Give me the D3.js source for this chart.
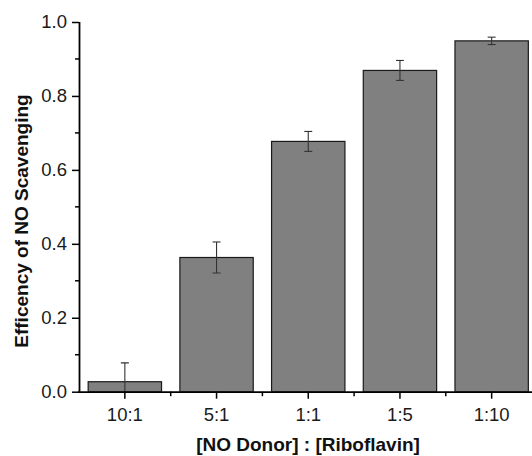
<!DOCTYPE html>
<html><head><meta charset="utf-8">
<script src="https://cdn.jsdelivr.net/npm/d3@7"></script>
<style>body{margin:0;background:#fff}svg{display:block}text{font-family:"Liberation Sans",Arial,sans-serif}</style>
</head><body>
<script>
const categories = ["10:1","5:1","1:1","1:5","1:10"];
const values = [0.027, 0.363, 0.677, 0.869, 0.949];
const errors = [0.051, 0.042, 0.027, 0.027, 0.010];
const yTicks = [0, 0.2, 0.4, 0.6, 0.8, 1.0];
const yMinorTicks = [0.1, 0.3, 0.5, 0.7, 0.9];

const W = 532, H = 456;
const svg = d3.select("body").append("svg").attr("width", W).attr("height", H);

const x = d3.scaleBand().domain(categories).range([79, 537.5]).paddingInner(0.2).paddingOuter(0.1);
const y = d3.scaleLinear().domain([0, 1]).range([391.7, 22]);

svg.append("defs").append("clipPath").attr("id","plot")
  .append("rect").attr("x",79).attr("y",0).attr("width",W).attr("height",y(0));

const g = svg.append("g").attr("clip-path","url(#plot)");
g.selectAll("rect.bar").data(values).join("rect").attr("class","bar")
  .attr("x",(d,i)=>x(categories[i])).attr("width",x.bandwidth())
  .attr("y",d=>y(d)).attr("height",d=>y(0)-y(d))
  .attr("fill","#808080").attr("stroke","#1a1a1a").attr("stroke-width",1.2);

const eb = g.selectAll("g.err").data(values).join("g").attr("class","err")
  .attr("stroke","#333").attr("stroke-width",1.1);
eb.each(function(d,i){
  const cx = x(categories[i]) + x.bandwidth()/2;
  const s = d3.select(this);
  const t = y(d+errors[i]), b = y(d-errors[i]);
  s.append("line").attr("x1",cx).attr("x2",cx).attr("y1",t).attr("y2",b);
  s.append("line").attr("x1",cx-4).attr("x2",cx+4).attr("y1",t).attr("y2",t);
  s.append("line").attr("x1",cx-4).attr("x2",cx+4).attr("y1",b).attr("y2",b);
});

// Y axis
const yAxis = d3.axisLeft(y).tickValues(yTicks).tickFormat(d3.format(".1f")).tickSize(7).tickPadding(5);
const ya = svg.append("g").attr("transform","translate(79,0)").call(yAxis);
ya.select(".domain").attr("stroke","#000").attr("stroke-width",1.8).attr("d",`M0.5,${y(1)}V${y(0)}`);
ya.selectAll(".tick line").attr("stroke","#000").attr("stroke-width",1.5);
ya.selectAll(".tick text").attr("font-size",18.5).attr("fill","#1a1a1a");
svg.append("g").selectAll("line").data(yMinorTicks).join("line")
  .attr("x1",75).attr("x2",79).attr("y1",d=>y(d)).attr("y2",d=>y(d))
  .attr("stroke","#000").attr("stroke-width",1.5);

// X axis
const xAxis = d3.axisBottom(x).tickSize(7).tickPadding(9.5);
const xa = svg.append("g").attr("transform",`translate(0,${y(0)})`).call(xAxis);
xa.select(".domain").attr("stroke","#000").attr("stroke-width",1.8).attr("d",`M78,0.5H${W}`);
xa.selectAll(".tick line").attr("stroke","#000").attr("stroke-width",1.5);
xa.selectAll(".tick text").attr("font-size",18.5).attr("fill","#1a1a1a");
const minorX = categories.slice(1).map(c => x(c) - x.step()*x.paddingInner()/2);
svg.append("g").selectAll("line").data(minorX).join("line")
  .attr("x1",d=>d).attr("x2",d=>d).attr("y1",y(0)).attr("y2",y(0)+4.5)
  .attr("stroke","#000").attr("stroke-width",1.5);

// Titles
svg.append("text").attr("x",308).attr("y",451).attr("text-anchor","middle")
  .attr("font-size",19).attr("font-weight","bold").attr("fill","#111")
  .text("[NO Donor] : [Riboflavin]");
svg.append("text").attr("transform","translate(27.5,221) rotate(-90)").attr("text-anchor","middle")
  .attr("font-size",19).attr("font-weight","bold").attr("fill","#111")
  .text("Efficency of NO Scavenging");
</script>
</body></html>
